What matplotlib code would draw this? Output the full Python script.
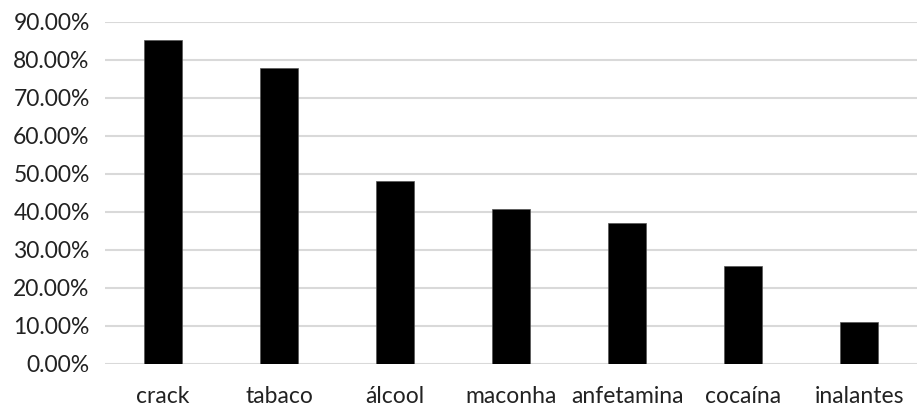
import numpy as np
from matplotlib import pyplot as plt
from matplotlib.ticker import PercentFormatter

plt.rcParams['font.family'] = ['Lato', 'DejaVu Sans']

drugs = ["crack", "tabaco", "álcool", "maconha", "anfetamina", "cocaína", "inalantes"]
shares = [85.2, 77.8, 48.1, 40.7, 37.0, 25.8, 11.1]
yticks = np.arange(0, 91, 10)

fig = plt.figure(figsize=(9.18, 4.07), dpi=100)
ax = fig.add_axes([105/918, 1 - 364/407, 812/918, 342/407])

x = np.arange(len(drugs))
ax.bar(x, shares, width=0.32, color="black", edgecolor="#555555", linewidth=0.5, zorder=3)

ax.set_xlim(-0.5, len(drugs) - 0.5)
ax.set_ylim(0, 90)
ax.set_yticks(yticks)
ax.yaxis.set_major_formatter(PercentFormatter(decimals=2))
ax.set_xticks(x)
ax.set_xticklabels(drugs)
ax.grid(axis="y", color="#d9d9d9", linewidth=1.5, zorder=0)
ax.set_axisbelow(True)
for s in ax.spines.values():
    s.set_visible(False)
ax.tick_params(axis="both", length=0, labelsize=16.5, colors="#222222")
ax.tick_params(axis="x", pad=16)
ax.tick_params(axis="y", pad=11)

fig.savefig("out.png", dpi=100)
